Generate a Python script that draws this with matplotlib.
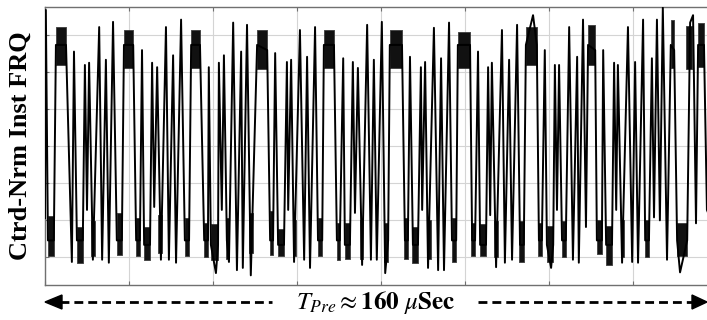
import matplotlib.pyplot as plt
from matplotlib.lines import Line2D
import numpy as np

# turning points of the centred, normalised instantaneous frequency (time in us)
t_us = [0.0, 0.2, 0.7, 2.1, 2.6, 5.0, 6.4, 6.9, 7.6, 9.0, 9.5, 10.0, 10.5, 11.4,
        12.9, 13.6, 14.5, 15.2, 16.2, 17.1, 18.3, 18.8, 21.0, 21.7, 22.6, 23.1,
        23.6, 25.0, 25.5, 26.0, 26.7, 27.6, 28.8, 29.5, 30.5, 31.2, 32.4, 33.3,
        34.3, 34.8, 36.9, 37.9, 38.8, 39.0, 39.5, 40.7, 41.2, 41.4, 42.1, 42.6,
        43.3, 43.8, 44.8, 45.7, 46.7, 47.1, 48.1, 49.0, 50.5, 52.9, 53.6, 54.3,
        54.8, 55.5, 56.9, 57.6, 57.9, 58.6, 59.3, 60.7, 61.7, 62.4, 63.1, 64.3,
        65.0, 66.0, 66.4, 68.8, 69.5, 70.2, 71.0, 71.4, 72.6, 73.3, 73.8, 74.5,
        75.5, 76.7, 77.6, 78.3, 79.0, 80.2, 81.0, 81.7, 82.1, 85.0, 85.7, 86.4,
        86.9, 87.6, 88.8, 89.5, 89.8, 90.5, 91.2, 92.6, 93.6, 94.3, 95.0, 96.2,
        96.9, 97.9, 98.3, 101.2, 101.7, 102.4, 103.1, 103.6, 105.0, 105.5, 106.0,
        106.4, 107.4, 108.8, 109.5, 110.5, 111.2, 112.4, 113.1, 114.0, 114.5,
        116.2, 117.1, 117.6, 118.3, 119.0, 119.5, 120.5, 121.0, 121.4, 121.9,
        122.4, 123.1, 124.0, 124.8, 125.7, 126.7, 127.1, 128.1, 128.8, 129.3,
        131.0, 131.4, 132.6, 132.9, 133.6, 135.0, 135.5, 136.0, 136.4, 137.4,
        138.8, 139.8, 140.5, 141.2, 142.4, 142.9, 143.8, 144.5, 145.0, 145.7,
        146.4, 147.1, 148.1, 149.0, 149.8, 150.5, 151.2, 152.9, 153.6, 154.3,
        155.0, 155.5, 156.9, 157.6, 160.0]
amp = [-0.97, 1.83, -1.27, -1.27, 1.36, 1.36, -1.56, 1.27, -1.27, -1.27, 1.09, -0.86,
       1.12, -1.53, 1.60, -1.53, 1.16, -1.57, 1.67, -1.27, -1.27, 1.36, 1.36, -1.27,
       -1.27, 1.29, -1.33, -1.33, 1.12, -0.82, 1.06, -1.53, 1.60, -1.53, 1.22, -1.57,
       1.70, -1.27, -1.27, 1.36, 1.36, -1.27, -1.27, 1.06, -1.33, -1.71, -1.33, 1.12,
       -0.86, 1.22, -1.27, -1.56, 1.66, -1.67, 1.27, -1.64, 1.63, -1.74, 1.36, 1.29,
       -1.27, -1.27, 1.25, -1.33, -1.33, 1.13, -0.86, 1.16, -1.56, 1.56, -1.53, 1.20,
       -1.64, 1.60, -1.27, -1.27, 1.36, 1.36, -1.27, -1.27, 1.18, -1.33, -1.33, 1.13,
       -0.90, 1.05, -1.60, 1.63, -1.53, 1.16, -1.53, 1.67, -1.71, -1.27, 1.36, 1.36,
       -1.27, -1.27, 1.20, -1.33, -1.33, 1.06, -0.86, 1.13, -1.64, 1.59, -1.67, 1.18,
       -1.67, 1.66, -1.27, -1.27, 1.36, 1.36, -1.27, -1.27, 1.27, -1.33, -1.33, 1.06,
       -0.93, 1.12, -1.63, 1.56, -1.57, 1.16, -1.53, 1.63, -1.33, -1.33, 1.36, 1.76,
       1.36, -1.27, -1.27, 1.29, -1.33, -1.64, -1.33, 1.09, -0.86, 1.09, -1.27, -1.27,
       1.60, -1.53, 1.20, -1.57, 1.70, -1.09, 1.36, 1.29, -1.27, -1.27, 1.29, -1.33,
       -1.33, 1.12, -0.86, 1.09, -1.57, 1.60, -1.56, 1.13, -1.57, 1.70, -1.27, -1.27,
       1.18, -0.96, 1.70, -1.00, 1.86, -1.53, 1.36, 1.29, -1.27, -1.70, -1.27, 1.66,
       1.76, -1.04, 1.36, 1.36, -0.86, -1.20]

# noisy plateaus (bursts): start, end, lower and upper level
burst_t0 = [2.6, 18.8, 34.8, 50.5, 66.4, 82.1, 98.3, 114.5, 129.3, 149.0, 152.6, 155.5,
            0.7, 7.6, 11.0, 17.1, 21.7, 23.6, 26.9, 33.3, 37.9, 39.5, 43.1, 48.6,
            53.6, 55.5, 59.0, 65.0, 69.5, 71.4, 75.0, 80.7, 85.5, 87.4, 91.0, 96.9,
            101.4, 103.6, 106.9, 112.9, 117.4, 119.5, 123.1, 131.4, 133.6, 137.1,
            142.9, 150.5]
burst_t1 = [5.0, 21.0, 36.9, 52.9, 68.8, 85.0, 101.2, 117.1, 131.0, 149.8, 154.0, 156.9,
            2.1, 9.0, 11.9, 18.3, 22.6, 25.0, 27.9, 34.3, 38.8, 41.2, 43.8, 49.5,
            54.3, 56.9, 59.8, 66.0, 70.2, 72.6, 75.7, 81.7, 86.4, 88.8, 91.9, 97.9,
            102.4, 105.0, 107.9, 114.0, 118.3, 121.0, 124.0, 132.6, 135.0, 137.9,
            143.8, 152.9]
burst_lo = [1.05, 1.02, 1.02, 1.00, 1.02, 1.02, 1.02, 1.06, 1.06, 1.00, 1.00, 1.02,
            -1.51, -1.60, -1.51, -1.51, -1.51, -1.56, -1.47, -1.51, -1.53, -1.56, -1.56,
            -1.47, -1.51, -1.51, -1.51, -1.51, -1.57, -1.56, -1.56, -1.60, -1.56, -1.60,
            -1.56, -1.60, -1.51, -1.51, -1.53, -1.60, -1.51, -1.60, -1.53, -1.49, -1.63,
            -1.53, -1.53, -1.51]
burst_hi = [1.63, 1.59, 1.59, 1.60, 1.59, 1.59, 1.56, 1.63, 1.66, 1.74, 1.66, 1.70,
            -0.90, -1.06, -0.97, -0.86, -0.93, -1.06, -0.89, -0.93, -1.00, -1.02, -0.93,
            -0.86, -0.83, -1.09, -0.96, -0.93, -1.00, -1.00, -0.96, -1.00, -0.93, -1.06,
            -0.96, -0.93, -1.00, -1.02, -0.97, -0.97, -1.00, -1.04, -0.97, -0.97, -1.04,
            -0.96, -0.96, -1.00]

plt.rcParams["mathtext.fontset"] = "stix"

fig = plt.figure(figsize=(7.07, 3.20), dpi=100)
# right edge of the axes falls just outside the picture, as in the original
ax = fig.add_axes([45 / 707, 1 - 285 / 320, 672 / 707, 278 / 320])

for t0, t1, lo, hi in zip(burst_t0, burst_t1, burst_lo, burst_hi):
    pad = 0.06 * (hi - lo)
    ax.fill_between([t0, t1], [lo + pad] * 2, [hi - pad] * 2, color="#111111",
                    lw=0.6, edgecolor="#3c3c3c", zorder=3)
ax.plot(t_us, amp, color="black", lw=1.4, zorder=4)

ax.set_xlim(0, 160)
ax.set_ylim(-1.87, 1.87)
ax.set_xticks(np.arange(0, 161, 20))
ax.set_yticks(np.arange(-1.5, 1.51, 0.5))
ax.tick_params(direction="in", length=3, color="#707070", top=True, right=True,
               labelbottom=False, labelleft=False)
ax.grid(True, color="#d4d4d4", lw=0.8)
ax.set_axisbelow(True)
for sp in ax.spines.values():
    sp.set_color("#707070")
    sp.set_linewidth(1.0)

fig.text(20 / 707, 1 - 146 / 320, "Ctrd-Nrm Inst FRQ", rotation=90, ha="center",
         va="center", family="Liberation Serif", weight="bold", fontsize=19)

fig.text(376 / 707, 1 - 302 / 320,
         r"$T_{\mathit{Pre}}\approx\mathbf{160}\ \mathit{\mu}\mathbf{Sec}$",
         ha="center", va="center", fontsize=18)

# dashed double arrow around the duration label
y_arr = 1 - 302 / 320
for x0, x1 in [(60 / 707, 272 / 707), (478 / 707, 694 / 707)]:
    fig.add_artist(Line2D([x0, x1], [y_arr, y_arr], transform=fig.transFigure,
                          color="black", lw=2, linestyle=(0, (3.2, 1.8))))
for tip, tail in [(45 / 707, 62 / 707), (707 / 707, 692 / 707)]:
    fig.add_artist(plt.Polygon([[tip, y_arr], [tail, y_arr + 7 / 320],
                                [tail, y_arr - 7 / 320]], closed=True,
                               transform=fig.transFigure, color="black"))

fig.savefig("out.png", dpi=100)
